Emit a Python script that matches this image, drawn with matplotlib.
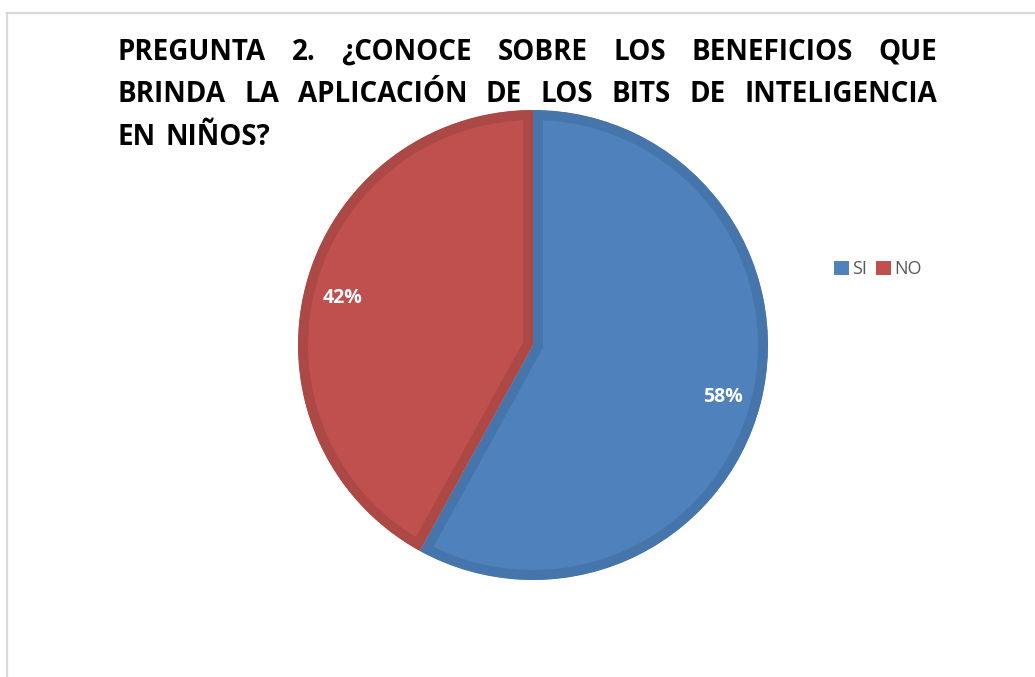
import matplotlib
matplotlib.use("Agg")
import matplotlib.pyplot as plt
from matplotlib.lines import Line2D
from matplotlib.patches import Patch

plt.rcParams["font.family"] = ["Open Sans", "DejaVu Sans"]

categorias = ["SI", "NO"]
porcentajes = [58, 42]
colores = ["#4F81BD", "#C0504D"]
bordes = ["#4675AC", "#AC4845"]
titulo = [
    "PREGUNTA 2. ¿CONOCE SOBRE LOS BENEFICIOS QUE",
    "BRINDA LA APLICACIÓN DE LOS BITS DE INTELIGENCIA",
    "EN NIÑOS?",
]

W, H = 1035, 677
fig = plt.figure(figsize=(W / 100, H / 100), dpi=100)
fig.patch.set_facecolor("white")

# marco gris (solo izquierda y arriba visibles)
fig.add_artist(Line2D([7 / W, 7 / W], [0, 1 - 13 / H], color="#D9D9D9", lw=1.6))
fig.add_artist(Line2D([7 / W, 1], [1 - 13 / H, 1 - 13 / H], color="#D9D9D9", lw=1.6))

# pastel
cx, cy, r = 533, 345, 235
ax = fig.add_axes([(cx - r) / W, (H - cy - r) / H, 2 * r / W, 2 * r / H])
wedges, _ = ax.pie(porcentajes, colors=colores, startangle=90, counterclock=False,
                   radius=1)
ax.set_xlim(-1, 1)
ax.set_ylim(-1, 1)
ax.set_aspect("equal")
ax.axis("off")
for w, ec in zip(wedges, bordes):
    w.set_edgecolor(ec)
    w.set_linewidth(14.4)
    w.set_clip_on(True)
    w.set_clip_path(w.get_path(), ax.transData)

# etiquetas de porcentaje
pos_lab = [(723, 397), (343, 298)]
for (px, py), v in zip(pos_lab, porcentajes):
    fig.text(px / W, 1 - py / H, f"{v}%", ha="center", va="center",
             color="white", fontsize=14, fontweight="bold")

# título justificado
fig.canvas.draw()
rend = fig.canvas.get_renderer()
x0, x1 = 118, 937
ybase = [60, 102, 145]
for i, linea in enumerate(titulo):
    palabras = linea.split(" ")
    arts = [fig.text(0, 1 - ybase[i] / H, p, fontsize=20, fontweight="bold",
                     color="black", ha="left", va="baseline") for p in palabras]
    anchos = [a.get_window_extent(rend).width for a in arts]
    if i < len(titulo) - 1:
        hueco = (x1 - x0 - sum(anchos)) / (len(palabras) - 1)
    else:
        hueco = 9
    x = x0
    for a, wd in zip(arts, anchos):
        a.set_x(x / W)
        x += wd + hueco

# leyenda
handles = [Patch(facecolor=c, edgecolor="none") for c in colores]
fig.legend(handles, categorias, loc="center left", bbox_to_anchor=(818 / W, 1 - 269 / H),
           ncol=2, frameon=False, handlelength=0.8, handleheight=0.8,
           handletextpad=0.2, columnspacing=0.5, fontsize=13, labelcolor="#595959")

fig.savefig("out.png", dpi=100, facecolor="white")
